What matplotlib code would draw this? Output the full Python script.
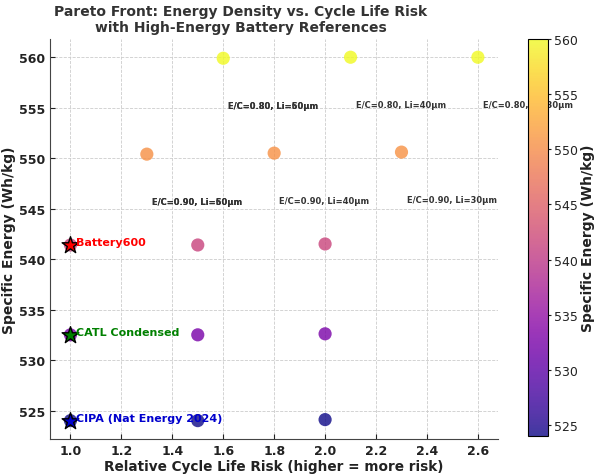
import matplotlib
matplotlib.use("Agg")
import matplotlib.pyplot as plt
from matplotlib.colors import Normalize

# design grid: relative cycle-life risk vs specific energy
risk = [1.6, 2.1, 2.6, 1.3, 1.8, 2.3, 1.0, 1.5, 2.0, 1.0, 1.5, 2.0, 1.0, 1.5, 2.0]
energy = [559.9, 560.0, 560.0, 550.4, 550.5, 550.6,
          541.4, 541.4, 541.5, 532.5, 532.5, 532.6, 524.0, 524.0, 524.1]

label_x = [1.6, 2.1, 2.6, 1.3, 1.8, 2.3]
label_y = [559.9, 560.0, 560.0, 550.4, 550.5, 550.6]
labels = ["E/C=0.80, Li=50µm", "E/C=0.80, Li=40µm", "E/C=0.80, Li=30µm",
          "E/C=0.90, Li=50µm", "E/C=0.90, Li=40µm", "E/C=0.90, Li=30µm"]
# a second set of labels sits on top of the first column
overlap_labels = ["E/C=0.80, Li=60µm", "E/C=0.90, Li=60µm"]

ref_names = ["Battery600", "CATL Condensed", "CIPA (Nat Energy 2024)"]
ref_risk = [1.0, 1.0, 1.0]
ref_energy = [541.4, 532.5, 524.0]
ref_colors = ["red", "green", "mediumblue"]

fig = plt.figure(figsize=(5.96, 4.77), dpi=100)
ax = fig.add_axes([0.084, 0.078, 0.752, 0.838])
cax = fig.add_axes([0.886, 0.084, 0.034, 0.832])

norm = Normalize(vmin=min(energy), vmax=max(energy))
sc = ax.scatter(risk, energy, c=energy, cmap="plasma", norm=norm, s=90,
                alpha=0.8, edgecolors="none", zorder=3)

for x, y, t in zip(label_x, label_y, labels):
    ax.text(x + 0.02, y - 4.7, t, fontsize=6, fontweight="bold",
            color="#333333", va="center", ha="left", clip_on=False, zorder=4)
for i, t in enumerate(overlap_labels):
    ax.text(label_x[i * 3] + 0.02, label_y[i * 3] - 4.7, t, fontsize=6,
            fontweight="bold", color="#333333", va="center", ha="left", zorder=4)

for name, x, y, col in zip(ref_names, ref_risk, ref_energy, ref_colors):
    ax.scatter([x], [y], marker="*", s=160, color=col, edgecolors="black",
               linewidths=1.0, zorder=5)
    ax.text(x + 0.02, y + 0.3, name, fontsize=8, fontweight="bold",
            color=col, va="center", ha="left", zorder=6)

ax.set_xticks([1.0, 1.2, 1.4, 1.6, 1.8, 2.0, 2.2, 2.4, 2.6])
ax.set_yticks([525, 530, 535, 540, 545, 550, 555, 560])
ax.grid(True, linestyle="--", linewidth=0.6, color="#cccccc", zorder=0)
ax.set_axisbelow(True)
for side in ("top", "right"):
    ax.spines[side].set_visible(False)
for side in ("left", "bottom"):
    ax.spines[side].set_color("#444444")
ax.tick_params(direction="in", labelsize=9, colors="#222222")
for lab in ax.get_xticklabels() + ax.get_yticklabels():
    lab.set_fontweight("bold")

ax.set_xlabel("Relative Cycle Life Risk (higher = more risk)", fontsize=9.8,
              fontweight="bold", color="#222222", labelpad=2)
ax.set_ylabel("Specific Energy (Wh/kg)", fontsize=10, fontweight="bold",
              color="#222222", labelpad=2)
ax.set_title("Pareto Front: Energy Density vs. Cycle Life Risk\n"
             "with High-Energy Battery References", fontsize=10,
             fontweight="bold", color="#333333", pad=6, x=0.425)

cb = fig.colorbar(sc, cax=cax)
cb.set_ticks([525, 530, 535, 540, 545, 550, 555, 560])
cb.ax.tick_params(labelsize=9, colors="#222222", length=2.5, pad=1.5)
cb.set_label("Specific Energy (Wh/kg)", fontsize=10, fontweight="bold",
             color="#222222", labelpad=2)

fig.savefig("out.png", dpi=100)
